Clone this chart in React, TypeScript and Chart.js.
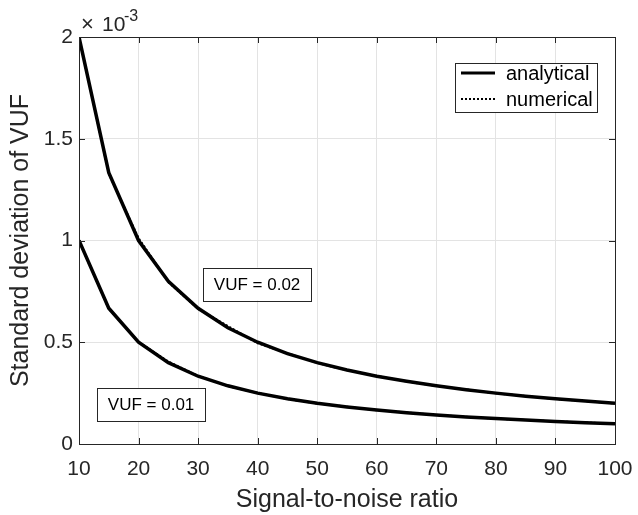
import React, { useEffect, useRef } from "react";
import { Chart, registerables } from "chart.js";

Chart.register(...registerables);

const snr = [10, 15, 20, 25, 30, 35, 40, 45, 50, 55, 60, 65, 70, 75, 80, 85, 90, 95, 100];
// values in units of 1e-3
const analytical002 = [2.0, 1.333, 1.0, 0.8, 0.667, 0.571, 0.5, 0.444, 0.4, 0.364, 0.333, 0.308, 0.286, 0.267, 0.25, 0.235, 0.222, 0.211, 0.2];
const numerical002 = [2.0, 1.328, 1.012, 0.795, 0.664, 0.58, 0.495, 0.446, 0.398, 0.362, 0.335, 0.307, 0.285, 0.268, 0.249, 0.236, 0.221, 0.211, 0.199];
const analytical001 = [1.0, 0.667, 0.5, 0.4, 0.333, 0.286, 0.25, 0.222, 0.2, 0.182, 0.167, 0.154, 0.143, 0.133, 0.125, 0.118, 0.111, 0.105, 0.1];
const numerical001 = [1.0, 0.664, 0.502, 0.405, 0.335, 0.284, 0.251, 0.221, 0.199, 0.183, 0.166, 0.155, 0.142, 0.134, 0.124, 0.118, 0.111, 0.106, 0.099];
const xTicks = [10, 20, 30, 40, 50, 60, 70, 80, 90, 100];
const yTicks = [0, 0.5, 1, 1.5, 2];
const legendLabels = ["analytical", "numerical"];
const annotations = [
  { text: "VUF = 0.02", x: 39.9, y: 0.786 },
  { text: "VUF = 0.01", x: 22.1, y: 0.195 },
];

const FONT = "'Liberation Sans', Arial, Helvetica, sans-serif";
const TXT = "#262626";

const decorPlugin = {
  id: "decor",
  afterDatasetsDraw(chart: any) {
    const ctx = chart.ctx;
    const { left, right, top, bottom } = chart.chartArea;
    const xs = chart.scales.x;
    const ys = chart.scales.y;
    ctx.save();
    ctx.strokeStyle = TXT;
    ctx.lineWidth = 1;
    ctx.strokeRect(Math.round(left) + 0.5, Math.round(top) + 0.5, Math.round(right - left), Math.round(bottom - top));
    const tl = 6;
    ctx.beginPath();
    xTicks.forEach((v) => {
      const px = Math.round(xs.getPixelForValue(v)) + 0.5;
      ctx.moveTo(px, bottom);
      ctx.lineTo(px, bottom - tl);
      ctx.moveTo(px, top);
      ctx.lineTo(px, top + tl);
    });
    yTicks.forEach((v) => {
      const py = Math.round(ys.getPixelForValue(v)) + 0.5;
      ctx.moveTo(left, py);
      ctx.lineTo(left + tl, py);
      ctx.moveTo(right, py);
      ctx.lineTo(right - tl, py);
    });
    ctx.stroke();

    // exponent label
    ctx.fillStyle = TXT;
    ctx.textBaseline = "alphabetic";
    ctx.textAlign = "left";
    ctx.font = `22px ${FONT}`;
    ctx.fillText("\u00d7", left + 2, top - 6);
    ctx.font = `21px ${FONT}`;
    ctx.fillText("10", left + 23, top - 6);
    ctx.font = `16px ${FONT}`;
    ctx.fillText("-3", left + 45, top - 16);

    // annotation boxes
    ctx.font = `17px ${FONT}`;
    annotations.forEach((a) => {
      const cx = xs.getPixelForValue(a.x);
      const cy = ys.getPixelForValue(a.y);
      const w = 108, h = 33;
      ctx.fillStyle = "#ffffff";
      ctx.fillRect(cx - w / 2, cy - h / 2, w, h);
      ctx.strokeStyle = TXT;
      ctx.lineWidth = 1;
      ctx.strokeRect(Math.round(cx - w / 2) + 0.5, Math.round(cy - h / 2) + 0.5, w, h);
      ctx.fillStyle = "#000";
      ctx.textAlign = "center";
      ctx.textBaseline = "middle";
      ctx.fillText(a.text, cx, cy + 1);
    });

    // legend
    const lx = right - 160, ly = top + 26, lw = 142, lh = 49;
    ctx.fillStyle = "#ffffff";
    ctx.fillRect(lx, ly, lw, lh);
    ctx.strokeStyle = TXT;
    ctx.lineWidth = 1;
    ctx.strokeRect(Math.round(lx) + 0.5, Math.round(ly) + 0.5, lw, lh);
    ctx.font = `20px ${FONT}`;
    ctx.textAlign = "left";
    ctx.textBaseline = "middle";
    legendLabels.forEach((lab, i) => {
      const yy = ly + 10 + i * 26;
      ctx.strokeStyle = "#000";
      ctx.lineWidth = i === 0 ? 3 : 2;
      ctx.setLineDash(i === 0 ? [] : [2, 2]);
      ctx.beginPath();
      ctx.moveTo(lx + 6, yy);
      ctx.lineTo(lx + 40, yy);
      ctx.stroke();
      ctx.setLineDash([]);
      ctx.fillStyle = "#000";
      ctx.fillText(lab, lx + 51, yy + 1);
    });
    ctx.restore();
  },
};

export default function App() {
  const ref = useRef<HTMLCanvasElement | null>(null);
  useEffect(() => {
    document.body.style.margin = "0";
    const canvas = ref.current!;
    const mk = (data: number[], dashed: boolean) => ({
      data: snr.map((x, i) => ({ x, y: data[i] })),
      borderColor: "#000000",
      backgroundColor: "#000000",
      borderWidth: dashed ? 2 : 3.5,
      borderDash: dashed ? [2, 2] : [],
      pointRadius: 0,
      tension: 0,
      fill: false,
    });
    const chart = new Chart(canvas, {
      type: "line",
      data: {
        datasets: [
          mk(analytical002, false),
          mk(analytical001, false),
          mk(numerical002, true),
          mk(numerical001, true),
        ],
      },
      options: {
        animation: false,
        responsive: false,
        events: [],
        layout: { padding: { top: 37, right: 23, left: 0, bottom: 0 } },
        plugins: { legend: { display: false }, tooltip: { enabled: false } },
        scales: {
          x: {
            type: "linear",
            min: 10,
            max: 100,
            afterBuildTicks: (s: any) => {
              s.ticks = xTicks.map((v) => ({ value: v }));
            },
            afterFit: (s: any) => {
              s.height = 71;
              s.paddingLeft = 0;
              s.paddingRight = 0;
            },
            grid: { color: "#e3e3e3", drawTicks: false },
            border: { display: false },
            ticks: {
              color: TXT,
              font: { family: FONT, size: 21 },
              padding: 13,
              maxRotation: 0,
              autoSkip: false,
            },
            title: {
              display: true,
              text: "Signal-to-noise ratio",
              color: TXT,
              font: { family: FONT, size: 25 },
              padding: { top: 4, bottom: 0 },
            },
          },
          y: {
            type: "linear",
            min: 0,
            max: 2,
            afterBuildTicks: (s: any) => {
              s.ticks = yTicks.map((v) => ({ value: v }));
            },
            afterFit: (s: any) => {
              s.width = 79;
              s.paddingTop = 0;
              s.paddingBottom = 0;
            },
            grid: { color: "#e3e3e3", drawTicks: false },
            border: { display: false },
            ticks: {
              color: TXT,
              font: { family: FONT, size: 21 },
              padding: 6,
              callback: (v: any) => String(v),
            },
            title: {
              display: true,
              text: "Standard deviation of VUF",
              color: TXT,
              font: { family: FONT, size: 25 },
              padding: { top: 6, bottom: 0 },
            },
          },
        },
      },
      plugins: [decorPlugin],
    } as any);
    return () => chart.destroy();
  }, []);
  return (
    <div style={{ position: "absolute", left: 0, top: 0, width: 638, height: 515, background: "#fff" }}>
      <canvas ref={ref} width={638} height={515} />
    </div>
  );
}
